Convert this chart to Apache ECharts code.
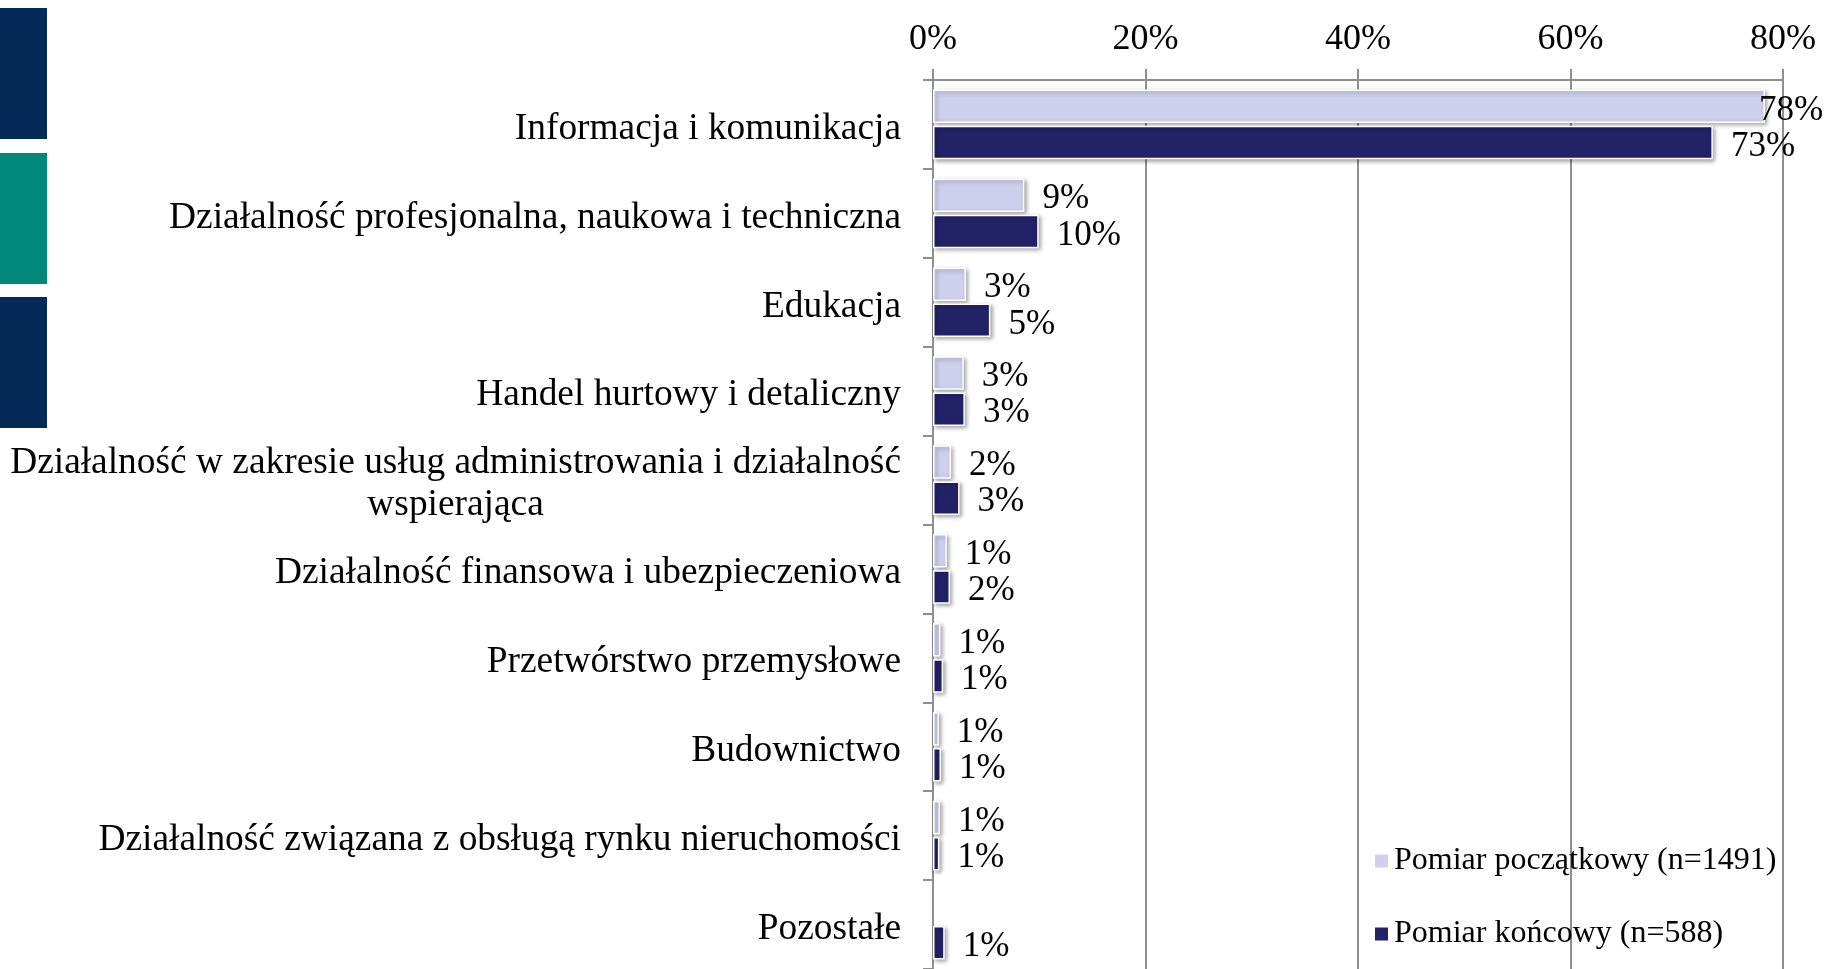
<!DOCTYPE html>
<html>
<head>
<meta charset="utf-8">
<script src="https://cdn.jsdelivr.net/npm/echarts@6/dist/echarts.min.js"></script>
<style>
  html, body { margin: 0; padding: 0; background: #fff; }
  #chart { width: 1826px; height: 969px; }
</style>
</head>
<body>
<div id="chart"></div>
<script>
// dane (w %)
const categories = [
  'Informacja i komunikacja',
  'Działalność profesjonalna, naukowa i techniczna',
  'Edukacja',
  'Handel hurtowy i detaliczny',
  'Działalność w zakresie usług administrowania i działalność\nwspierająca',
  'Działalność finansowa i ubezpieczeniowa',
  'Przetwórstwo przemysłowe',
  'Budownictwo',
  'Działalność związana z obsługą rynku nieruchomości',
  'Pozostałe'
]
const pomiarPoczatkowy = [78.3, 8.6, 3.1, 2.9, 1.7, 1.3, 0.7, 0.55, 0.65, null]
const pomiarKoncowy = [73.4, 9.95, 5.4, 3.0, 2.5, 1.6, 0.95, 0.75, 0.6, 1.1]
const seriesNames = ['Pomiar początkowy (n=1491)', 'Pomiar końcowy (n=588)']
const valueTicks = { min: 0, max: 80, interval: 20 }

const font = "'Liberation Serif', 'Times New Roman', serif"
const gridColor = '#8f8f8f'

const barStyle = (color) => ({
  color,
  borderColor: '#ffffff',
  borderWidth: 1.5,
  shadowColor: 'rgba(0,0,0,0.35)',
  shadowBlur: 4,
  shadowOffsetX: 2,
  shadowOffsetY: 2
})

const valueLabel = {
  show: true,
  position: 'right',
  distance: 18,
  offset: [0, 4],
  fontFamily: font,
  fontSize: 35,
  color: '#000',
  formatter: (p) => Math.round(p.value) + '%'
}

// etykieta 78% wsunięta w obszar wykresu
const firstData = pomiarPoczatkowy.map((v, i) =>
  i === 0 ? { value: v, label: { offset: [-24, 4] } } : v
)

const myChart = echarts.init(document.getElementById('chart'))
myChart.setOption({
  animation: false,
  textStyle: { fontFamily: font },
  grid: { left: 933, right: 43, top: 80, bottom: -3, containLabel: false },
  graphic: [
    { type: 'rect', shape: { x: 0, y: 8, width: 47, height: 131 }, style: { fill: '#022c57' } },
    { type: 'rect', shape: { x: 0, y: 153, width: 47, height: 131 }, style: { fill: '#00887a' } },
    { type: 'rect', shape: { x: 0, y: 297, width: 47, height: 131 }, style: { fill: '#022c57' } }
  ],
  legend: {
    orient: 'vertical',
    left: 1368,
    top: 838,
    itemWidth: 15,
    itemHeight: 15,
    itemGap: 37,
    icon: 'rect',
    textStyle: { fontFamily: font, fontSize: 32, color: '#000', lineHeight: 36 },
    data: seriesNames
  },
  xAxis: {
    type: 'value',
    position: 'top',
    min: valueTicks.min,
    max: valueTicks.max,
    interval: valueTicks.interval,
    axisLine: { show: true, lineStyle: { color: gridColor, width: 2 } },
    axisTick: { show: true, length: 11, lineStyle: { color: gridColor, width: 2 } },
    splitLine: { show: true, lineStyle: { color: gridColor, width: 2 } },
    axisLabel: {
      fontFamily: font,
      fontSize: 36,
      color: '#000',
      margin: 22,
      formatter: '{value}%'
    }
  },
  yAxis: {
    type: 'category',
    inverse: true,
    data: categories,
    axisLine: { show: true, lineStyle: { color: gridColor, width: 2 } },
    axisTick: { show: true, length: 10, lineStyle: { color: gridColor, width: 2 } },
    axisLabel: {
      color: '#000',
      margin: 32,
      align: 'right',
      padding: [9, 0, 0, 0],
      // wiersze wyśrodkowane względem siebie, blok wyrównany do prawej
      formatter: (v) => v.split('\n').map((l) => '{c|' + l + '}').join('\n'),
      rich: {
        c: { align: 'center', fontFamily: font, fontSize: 37.4, lineHeight: 42, color: '#000' }
      }
    }
  },
  series: [
    {
      name: seriesNames[0],
      type: 'bar',
      data: firstData,
      barWidth: 33.5,
      barGap: '8%',
      itemStyle: barStyle('#ced0ee'),
      label: valueLabel
    },
    {
      name: seriesNames[1],
      type: 'bar',
      data: pomiarKoncowy,
      barWidth: 33.5,
      barGap: '8%',
      itemStyle: barStyle('#232267'),
      label: valueLabel
    }
  ]
})
</script>
</body>
</html>
